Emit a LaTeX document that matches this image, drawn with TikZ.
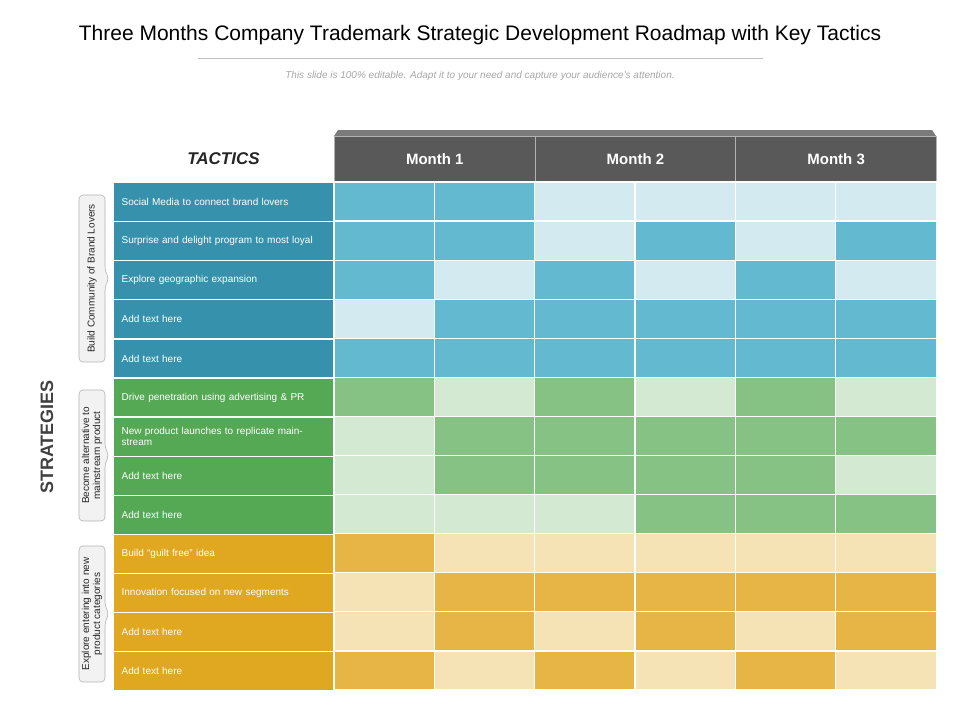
\documentclass[tikz,border=0pt]{standalone}
\usepackage{fontspec}
\setmainfont{Liberation Sans}
\definecolor{tb}{HTML}{3692AC}\definecolor{db}{HTML}{62B9D0}\definecolor{lb}{HTML}{D3EAF0}
\definecolor{tg}{HTML}{55A854}\definecolor{dg}{HTML}{86C283}\definecolor{lg}{HTML}{D3E9D2}
\definecolor{to}{HTML}{E0A820}\definecolor{do}{HTML}{E6B545}\definecolor{lo}{HTML}{F6E3B5}
\definecolor{hd}{HTML}{595959}
\tikzset{cellbox/.style={draw=white,line width=1.2pt},
 tact/.style={draw=white,line width=1.2pt,anchor=north west,minimum width=221pt,minimum height=39.1pt,text width=205pt,align=left,inner xsep=8pt,text=white,font=\fontsize{10}{11}\selectfont},
 mhead/.style={draw=gray!60,line width=0.8pt,fill=hd,anchor=north west,minimum width=200.7pt,minimum height=46pt,text=white,font=\fontsize{15}{17}\selectfont\bfseries},
 stratbox/.style={draw=gray!60,fill=gray!10,rounded corners=4pt,line width=0.6pt},
 strattext/.style={rotate=90,align=center,font=\fontsize{10}{11}\selectfont,text=black!85}}
\begin{document}
\begin{tikzpicture}[x=1pt,y=-1pt]
\useasboundingbox (0,0) rectangle (960,720);
\node (title) at (480,35) {\fontsize{21}{24}\selectfont Three Months Company Trademark Strategic Development Roadmap with Key Tactics};
\draw[gray!50,line width=0.8pt] (198,58) -- (763,58);
\node (sub) at (480,76) {\fontsize{10}{12}\selectfont\itshape\color{gray!70}This slide is 100\% editable. Adapt it to your need and capture your audience’s attention.};
% header top strip
\fill[hd!80] (338,130) -- (932,130) -- (936,136) -- (334,136) -- cycle;
\node (tactics) at (223.5,159) {\fontsize{17}{20}\selectfont\bfseries\itshape\color{black!85}TACTICS};
\foreach \i/\t in {0/Month 1,1/Month 2,2/Month 3}
  \node[mhead] (m\i) at ({334+200.7*\i},136) {\t};
% rows
\def\rowh{39.08}
\foreach \r/\tc/\dc/\lc/\pat/\txt in {
 0/tb/db/lb/{1,1,0,0,0,0}/Social Media to connect brand lovers,
 1/tb/db/lb/{1,1,0,1,0,1}/Surprise and delight program to most loyal,
 2/tb/db/lb/{1,0,1,0,1,0}/Explore geographic expansion,
 3/tb/db/lb/{0,1,1,1,1,1}/Add text here,
 4/tb/db/lb/{1,1,1,1,1,1}/Add text here,
 5/tg/dg/lg/{1,0,1,0,1,0}/Drive penetration using advertising \& PR,
 6/tg/dg/lg/{0,1,1,1,1,1}/{New product launches to replicate mainstream},
 7/tg/dg/lg/{0,1,1,1,1,0}/Add text here,
 8/tg/dg/lg/{0,0,0,1,1,1}/Add text here,
 9/to/do/lo/{1,0,0,0,0,0}/Build “guilt free” idea,
 10/to/do/lo/{0,1,1,1,1,1}/Innovation  focused on new segments,
 11/to/do/lo/{0,1,0,1,0,1}/Add text here,
 12/to/do/lo/{1,0,1,0,1,0}/Add text here}{
  \node[tact,fill=\tc] (t\r) at (113,{182+\rowh*\r}) {\txt};
  \foreach \v [count=\c from 0] in \pat {
    \ifnum\v=1 \def\cc{\dc}\else\def\cc{\lc}\fi
    \filldraw[cellbox,fill=\cc] ({334+100.35*\c},{182+\rowh*\r}) rectangle ++(100.35,\rowh);
  }
}
% strategy labels
\foreach \n/\a/\b/\t in {s1/195/362/{Build Community of Brand Lovers},s2/390/521/{Become alternative to\\mainstream product},s3/546/682/{Explore entering into new\\product categories}}{
  \draw[stratbox] (79,\a) -- (105,\a) -- (105,{(\a+\b)/2-8}) -- (109,{(\a+\b)/2}) -- (105,{(\a+\b)/2+8}) -- (105,\b) -- (79,\b) -- cycle;
  \node[strattext] (\n) at (92,{(\a+\b)/2}) {\t};
}
\node[rotate=90,font=\fontsize{18}{20}\selectfont\bfseries,text=black!75] (strat) at (47,437) {STRATEGIES};
\end{tikzpicture}
\end{document}
